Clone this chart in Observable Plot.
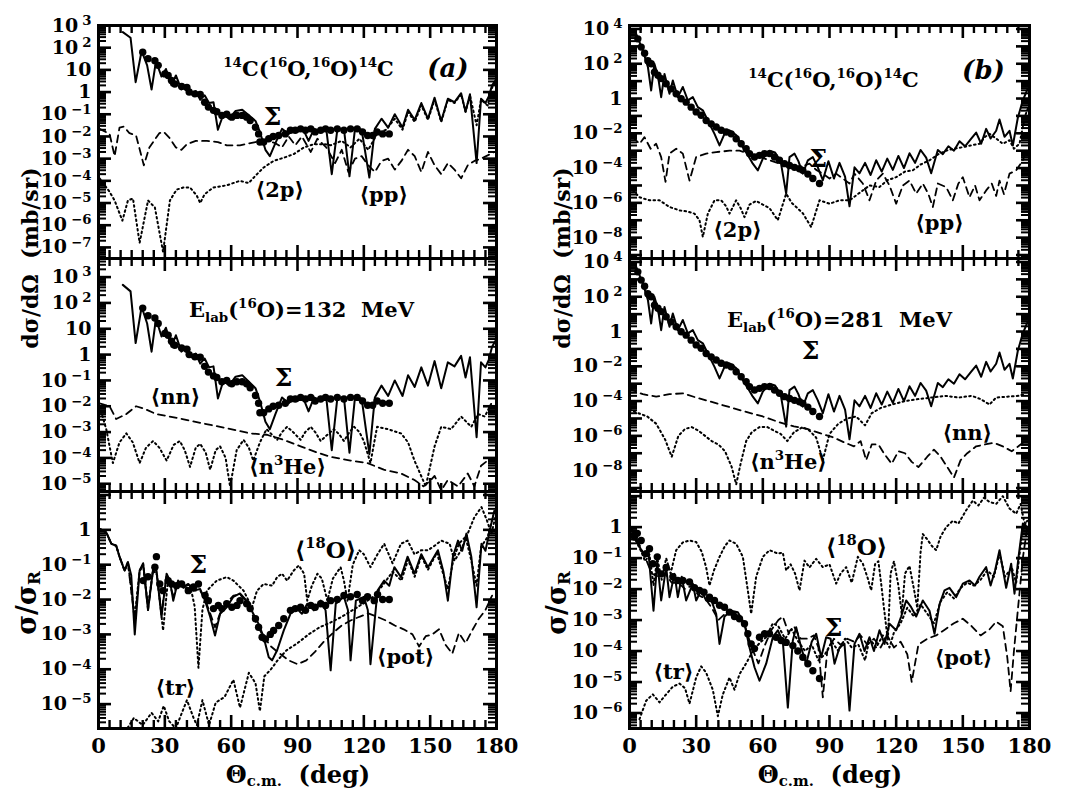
<!DOCTYPE html>
<html><head><meta charset="utf-8">
<script src="https://cdn.jsdelivr.net/npm/d3@7"></script>
<script src="https://cdn.jsdelivr.net/npm/@observablehq/plot@0.6"></script>
<style>
body{margin:0;background:#fff;}
#fig{position:relative;width:1065px;height:799px;overflow:hidden;font-family:"DejaVu Serif",serif;color:#000;}
#fig svg{position:absolute;overflow:visible;}
.tt{position:absolute;font-weight:bold;white-space:nowrap;transform:translate(-50%,-50%);line-height:1;}
.rot{transform:translate(-50%,-50%) rotate(-90deg);}
.tt sub{font-size:62%;vertical-align:-0.25em;}
</style></head><body><div id="fig"></div>
<script>
// ---------- tick labels ----------
const angleTicks = [0, 30, 60, 90, 120, 150, 180];
const yTicksA = [1e3, 1e2, 1e1, 1, 1e-1, 1e-2, 1e-3, 1e-4, 1e-5, 1e-6, 1e-7];
const yTicksB = [1e4, 1e2, 1, 1e-2, 1e-4, 1e-6, 1e-8];
const yTicksC = [1e3, 1e2, 1e1, 1, 1e-1, 1e-2, 1e-3, 1e-4, 1e-5];
const yTicksD = [1e4, 1e2, 1, 1e-2, 1e-4, 1e-6, 1e-8];
const yTicksE = [1, 1e-1, 1e-2, 1e-3, 1e-4, 1e-5];
const yTicksF = [1, 1e-1, 1e-2, 1e-3, 1e-4, 1e-5, 1e-6];

// ---------- E = 132 MeV, dsigma/dOmega (mb/sr) ----------
const sum132 = [[11,500],[14.5,280],[16.8,2.8],[19.5,71],[22,16],[24,1.3],[26,25],[28.5,5.0],[30.5,11],[33,2.0],[35,5.6],[37.5,1.3],[39.5,2.0],[42,0.79],[44,1.1],[46,0.45],[48,0.71],[50,0.32],[52,0.35],[54,0.02],[56.5,0.10],[59,0.063],[62,0.14],[65,0.16],[68,0.089],[71,0.050],[73,0.016],[75.5,2.5e-3],[77.5,1.3e-3],[80,5.0e-3],[83,0.022],[86,0.013],[88,0.020],[90,0.016],[92.5,0.022],[95,6.3e-3],[97.5,0.022],[100,0.016],[103,0.022],[105.5,2.0e-4],[108,0.020],[111,0.022],[113.5,1.6e-4],[116,0.022],[119,0.020],[122.5,1.4e-4],[125,0.022],[128,0.063],[131,0.025],[134,0.10],[137.5,0.025],[140,0.16],[143,0.056],[146,0.32],[149,0.063],[152,0.56],[155,0.050],[158,0.50],[161,0.35],[164,0.89],[166,0.13],[168,0.79],[171,6.3e-4],[173,0.50],[175,0.32],[176.5,0.63],[178,2.0],[180,4.0]];
const pts132 = [[20,63],[22.4,32],[25.5,26],[27,16],[30,6.6],[31.5,5.6],[33,3.3],[34.5,2.3],[37.6,1.8],[40,1.6],[41,1.0],[43.6,0.83],[46,0.79],[48,0.35],[49.7,0.21],[52,0.15],[53.5,0.13],[55.8,0.089],[58,0.10],[60.3,0.074],[62.6,0.089],[65,0.089],[67,0.074],[68.6,0.052],[71,0.026],[72.4,0.013],[73,5.6e-3],[74.7,5.6e-3],[77,7.9e-3],[79,0.010],[81.5,0.011],[84.5,0.013],[86.8,0.019],[89,0.019],[91.4,0.022],[93.6,0.019],[96,0.022],[98,0.016],[100.5,0.019],[102.7,0.022],[105,0.019],[108,0.022],[111,0.019],[114,0.022],[117,0.022],[119.4,0.016],[121.7,0.011],[124,0.011],[126,0.016],[128.5,0.013],[131.5,0.013]];
const pp132 = [[0.5,0.022],[5,0.013],[7.3,1.3e-3],[9.5,0.025],[11.5,0.028],[14,0.014],[17,0.011],[20.5,5.0e-4],[23,3.2e-3],[27.5,0.014],[29.5,0.016],[32,8.9e-3],[35,3.2e-3],[37.5,2.5e-3],[40,4.5e-3],[44,6.3e-3],[49,6.3e-3],[54,5.6e-3],[58,4.0e-3],[64,4.0e-3],[71,5.6e-3],[76,6.3e-3],[80,5.0e-3],[83,3.2e-3],[86,0.010],[89,4.0e-3],[92,0.010],[96,2.0e-3],[99,7.9e-3],[103,3.2e-3],[107,6.3e-4],[110,2.5e-3],[113,2.5e-4],[116,1.0e-3],[119,1.3e-3],[122,5.0e-4],[125,2.5e-4],[128,7.9e-4],[131,1.0e-3],[134,3.2e-4],[137,7.9e-4],[140,2.5e-3],[143,1.3e-3],[146,2.5e-4],[149,2.0e-3],[152,5.0e-4],[155,2.0e-4],[158,6.3e-4],[161,3.2e-4],[164,1.3e-4],[167,5.0e-4],[170,7.9e-4],[173,1.0e-3],[176,1.4e-3],[179,2.0e-3]];
const twop132 = [[0.5,1.3e-4],[5,3.2e-5],[7.3,1.3e-5],[10.8,1.6e-6],[13.3,1.3e-5],[15.6,1.6e-5],[18.6,1.6e-7],[22.4,1.3e-5],[25.5,6.3e-6],[29.2,6.3e-8],[32.3,1.3e-5],[35.3,4.0e-5],[38.3,5.0e-5],[41.4,5.0e-5],[44.4,2.2e-5],[46,1.0e-5],[48,2.5e-5],[51.9,5.0e-5],[58,6.3e-5],[64,1.0e-4],[67.9,7.9e-5],[71.7,2.0e-4],[74.7,4.0e-4],[79.2,7.9e-4],[83.8,1.1e-3],[88.3,1.6e-3],[92.9,3.2e-3],[97.4,4.5e-3],[102,4.5e-3],[105,4.0e-3],[110,6.3e-3],[114,3.2e-3],[118,7.9e-3],[122,2.5e-3],[126,0.013],[130,0.020],[134,0.063],[137.5,0.020],[140,0.13],[143,0.045],[146,0.25],[149,0.056],[152,0.45],[155,0.045],[158,0.45],[161,0.32],[164,0.79],[166,0.13],[168,0.71],[171,0.032],[173,0.45],[176,0.25],[178,1.6],[180,3.2]];
const nn132 = [[0.5,0.013],[5,0.010],[8,3.2e-3],[12.6,5.0e-3],[17,0.010],[21,7.9e-3],[26,5.0e-3],[32,4.0e-3],[38,3.2e-3],[47,2.2e-3],[58,1.4e-3],[68.6,8.9e-4],[76,7.9e-4],[83.8,5.0e-4],[91.4,2.8e-4],[99,1.6e-4],[105,1.1e-4],[114,7.9e-5],[121.7,6.3e-5],[129,3.5e-5],[136.8,2.5e-5],[142.9,1.4e-5],[147,7.9e-6],[150,1.3e-5],[152,2.0e-5],[155,5.6e-6],[158,1.4e-5],[162.6,7.9e-6],[167,2.5e-5],[170,7.9e-6],[173,5.0e-5],[176,7.9e-5]];
const n3he132 = [[0.5,0.010],[3.5,1.3e-3],[6.5,6.3e-5],[9.5,4.0e-4],[12.6,8.9e-4],[15.5,4.0e-4],[18.6,6.3e-5],[21.5,2.5e-4],[24.7,4.5e-4],[27.5,2.5e-4],[30.8,7.9e-5],[34,3.2e-4],[36.8,4.5e-4],[39,2.0e-4],[41.4,4.5e-5],[44,2.5e-4],[46,3.5e-4],[48.5,1.6e-4],[50.5,3.5e-5],[53,2.0e-4],[55,2.8e-4],[57.5,1.0e-4],[59.5,7.9e-6],[62.5,2.0e-4],[65.6,5.0e-4],[68,2.5e-4],[70,7.9e-5],[73,4.0e-4],[76,1.3e-3],[78.5,7.9e-4],[80.8,5.0e-4],[83,1.0e-3],[85.3,1.6e-3],[88,1.0e-3],[91.4,5.0e-4],[93.5,1.0e-3],[96,1.6e-3],[98,1.0e-3],[100.5,4.5e-4],[103.5,7.9e-4],[106.5,1.3e-3],[109,7.9e-4],[111,4.5e-4],[113.5,1.0e-3],[115.6,1.6e-3],[118,1.0e-3],[120,4.5e-4],[123,6.3e-5],[126,1.6e-3],[130.8,1.3e-3],[136.8,8.9e-4],[140,4.0e-4],[142.9,7.9e-5],[148,7.9e-6],[152,2.8e-4],[155,1.6e-3],[159.5,1.3e-3],[164,4.0e-3],[168.6,1.6e-3],[171.7,5.0e-3],[174.7,4.0e-3],[177.7,0.013]];

// ---------- E = 132 MeV, sigma / sigma_R ----------
const sumR132 = [[0.5,1.07],[3.5,0.85],[5.8,0.40],[8,0.35],[9.5,0.17],[11.8,0.068],[13.3,0.12],[14.8,0.050],[16.4,1.0e-3],[18.6,0.068],[20.2,0.11],[22.4,5.0e-3],[24.7,0.076],[26.2,0.068],[28.5,3.2e-3],[30.8,0.055],[32.3,0.035],[33.8,9.3e-3],[36,0.035],[38.3,0.023],[40.6,0.028],[42.9,0.018],[46,0.020],[48.2,9.3e-3],[50.5,3.2e-3],[52.7,9.3e-4],[55,3.9e-3],[58,6.0e-3],[61,0.012],[64,0.015],[67,9.3e-3],[70,3.9e-3],[72.4,2.0e-3],[74.7,8.3e-4],[77,2.2e-4],[78.5,1.8e-4],[80.8,3.5e-4],[83.8,1.3e-3],[86.8,3.9e-3],[89.8,5.4e-3],[92,3.9e-3],[94.4,7.6e-3],[97.4,4.9e-3],[100.5,9.3e-3],[102.7,4.9e-3],[105,9.3e-5],[107.3,7.6e-3],[111,0.012],[112.8,5.0e-3],[114,1.8e-4],[116.4,9.3e-3],[120,0.012],[121.8,5.0e-3],[123,1.4e-4],[126.2,0.018],[129.2,0.035],[131.5,0.025],[133.8,0.085],[136.8,0.044],[139.8,0.17],[142.9,0.055],[146,0.20],[149,0.085],[153.5,0.26],[156,0.063],[158,9.3e-3],[160.3,0.17],[162.6,0.49],[164.5,0.25],[166.4,0.78],[168.6,0.17],[171,6.0e-3],[173.2,0.40],[175,0.25],[177,1.0],[179,3.5]];
const ptsR132 = [[20.2,0.035],[22.4,0.045],[25.5,0.085],[26.2,0.17],[27.7,0.028],[29.2,0.018],[31.5,0.035],[33,0.028],[35.3,0.025],[37.6,0.028],[40.6,0.018],[43,0.023],[45.2,0.028],[48.2,0.013],[49.7,9.3e-3],[52,5.5e-3],[54.2,6.8e-3],[55.8,5.5e-3],[58,7.6e-3],[60.3,6.0e-3],[62.6,6.8e-3],[64,9.3e-3],[67,7.6e-3],[68.6,5.5e-3],[71,2.8e-3],[72.4,1.6e-3],[74,8.3e-4],[75.5,7.4e-4],[77.7,1.0e-3],[79.2,1.3e-3],[81.5,1.8e-3],[83.8,2.8e-3],[86.8,4.9e-3],[89,5.5e-3],[91.4,6.0e-3],[93.6,4.9e-3],[96,6.8e-3],[98,6.0e-3],[100.5,7.6e-3],[102.7,6.8e-3],[105,9.3e-3],[108,0.010],[111,0.013],[114,0.012],[117,0.014],[119.4,9.3e-3],[121.7,0.012],[124.7,9.3e-3],[126.2,0.014],[128.5,0.010],[131.5,0.010]];
const o18_132 = [[0.5,1.07],[3.5,0.85],[5.8,0.40],[8,0.35],[9.5,0.17],[11.8,0.068],[13.3,0.12],[16.4,3.2e-3],[18.6,0.068],[20.2,0.10],[22.4,6.3e-3],[24.7,0.071],[26.5,0.050],[29.2,1.3e-3],[31.5,0.040],[34,0.025],[36.5,0.032],[39,0.020],[41.5,0.025],[43.5,6.3e-3],[45.2,1.1e-4],[47,5.0e-3],[49,0.018],[53.5,0.035],[58,0.044],[61,0.035],[65.6,0.018],[69.4,6.0e-3],[71.7,0.018],[74.7,0.028],[78.5,0.025],[80.8,0.044],[83,0.055],[85.3,0.035],[88.3,0.068],[90.6,0.095],[93,0.055],[94.4,9.3e-3],[96.5,0.025],[99,0.055],[101,0.040],[103.5,9.3e-3],[106,0.040],[109.5,0.085],[111,0.035],[112.6,9.3e-3],[115,0.10],[117.9,0.26],[120,0.20],[123,0.085],[126.2,0.20],[129.2,0.40],[133,0.11],[136.8,0.40],[139.8,0.49],[142.9,0.20],[146,0.26],[149,0.26],[152,0.35],[155,0.49],[158.8,0.40],[161,0.13],[164,0.26],[167,0.79],[170,2.3],[173.2,4.5],[175.5,2.0],[177.7,0.78],[180,3.2]];
const pot132 = [[0.5,1.07],[3.5,0.85],[5.8,0.40],[8,0.35],[9.5,0.17],[11.8,0.068],[13.3,0.11],[16.4,2.5e-3],[18.6,0.063],[20.2,0.10],[22.4,5.0e-3],[24.7,0.071],[26.2,0.063],[28.5,4.0e-3],[30.8,0.050],[33.8,0.013],[36,0.032],[38.3,0.022],[40.6,0.025],[42.9,0.018],[46,0.018],[48.2,0.010],[50.5,4.0e-3],[52.7,1.6e-3],[55,4.0e-3],[58,7.9e-3],[61,0.013],[64,0.014],[67,8.9e-3],[70,3.2e-3],[74,1.0e-3],[78,4.5e-4],[82,2.8e-4],[86,1.8e-4],[90,1.4e-4],[94,1.8e-4],[98,3.2e-4],[102,6.3e-4],[106,1.1e-3],[110,1.8e-3],[114,2.5e-3],[118,3.2e-3],[122,4.0e-3],[126,3.2e-3],[130,2.5e-3],[134,1.8e-3],[138,1.4e-3],[142,1.0e-3],[145,4.5e-4],[148,8.9e-4],[151,1.0e-3],[154,1.4e-3],[157,5.0e-4],[160,2.8e-4],[163,1.1e-3],[166,5.6e-4],[169,1.3e-3],[172,2.8e-3],[175,5.0e-3],[178,0.013]];
const tr132 = [[12,1.6e-6],[16,4.0e-6],[20,2.5e-6],[24,5.6e-6],[27,3.2e-6],[29.5,8.9e-6],[32,3.2e-6],[35,2.0e-6],[38,6.3e-6],[40,1.3e-5],[43,4.0e-6],[44.5,2.5e-6],[47,1.3e-5],[50,2.5e-6],[53,1.1e-5],[57,1.6e-5],[61,5.0e-5],[64,7.9e-6],[68,7.9e-5],[71,4.0e-5],[73,6.3e-6],[75,6.3e-5],[78,1.0e-4],[81,1.8e-4],[85,3.5e-4],[90,5.6e-4],[95,1.0e-3],[100,1.6e-3],[105,2.2e-3],[110,3.2e-3],[115,5.0e-3],[120,7.9e-3],[125,0.013],[129,0.028],[133,0.063],[137,0.035],[140,0.14],[143,0.045],[146,0.18],[149,0.071],[153,0.22],[158,0.020],[160.5,0.14],[163,0.40],[166,0.63],[168.5,0.14],[171,0.025],[173,0.32],[176,0.63],[178.5,2.5]];

// ---------- E = 281 MeV, dsigma/dOmega (mb/sr) ----------
const sum281 = [[3,5200],[6,580],[8.3,63],[9.75,2.9],[11.2,100],[12.8,20],[14.25,1.2],[15.75,26],[18,1.9],[19.5,11],[21.75,1.2],[24,4.6],[26.25,0.78],[28.5,1.2],[30.75,0.32],[33,0.21],[36,0.035],[38.25,9.3e-3],[40.5,2.0e-3],[42.75,9.3e-3],[45,0.015],[48,7.9e-3],[51,1.6e-3],[53.5,5.0e-4],[55.5,1.8e-4],[57.75,7.4e-5],[60,3.5e-4],[63,1.0e-3],[65.5,7.9e-4],[68,2.5e-4],[70.5,3.4e-6],[72,4.3e-4],[74.25,6.8e-4],[76,2.5e-4],[78,4.8e-5],[80.25,2.8e-4],[82.5,4.3e-4],[84.75,1.1e-4],[87,2.0e-5],[89.5,2.5e-4],[92,2.5e-5],[94.5,2.0e-4],[97,3.2e-5],[99,6.3e-7],[101.25,1.1e-4],[103.5,5.0e-5],[106,2.0e-4],[108.5,4.0e-5],[111,2.8e-4],[113.5,6.3e-5],[116,3.5e-4],[118.5,7.9e-5],[121,5.0e-4],[123.5,1.0e-4],[126,7.1e-4],[128.5,2.0e-4],[131,1.1e-3],[133.5,4.0e-4],[135.75,5.0e-5],[138.75,1.1e-3],[141,6.3e-4],[143.5,1.8e-3],[146,1.0e-3],[148.5,3.5e-3],[151,1.8e-3],[153.5,4.5e-3],[156,0.011],[158.25,2.5e-3],[160.5,0.018],[162.5,5.0e-3],[165,0.014],[166.5,0.063],[168.75,6.3e-3],[171,0.014],[172.5,2.0e-3],[174.75,0.079],[177,0.79],[179,3.2]];
const pts281 = [[3.75,2700],[5.25,910],[6.8,400],[8.25,150],[9.75,100],[11.25,33],[12.8,22],[14.25,14],[16.5,7.1],[18.75,3.6],[21,1.9],[23.25,0.98],[25.5,0.62],[27.75,0.32],[30,0.17],[32.25,0.11],[34.5,0.055],[36.75,0.035],[39,0.023],[41.25,0.015],[43.5,0.012],[45.75,9.3e-3],[48,4.9e-3],[50.25,2.5e-3],[52.5,1.3e-3],[54,6.8e-4],[56.25,4.3e-4],[58.5,5.4e-4],[60.75,6.8e-4],[63,6.8e-4],[65.25,4.3e-4],[67.5,2.8e-4],[69.75,1.8e-4],[72,1.4e-4],[74.25,1.1e-4],[76.5,9.1e-5],[78,7.4e-5],[80.25,4.5e-5],[82.5,2.5e-5],[85.5,1.3e-5]];
const pp281 = [[1.5,6.0e-3],[4.5,2.5e-3],[6.75,6.0e-3],[9.5,1.3e-3],[12,2.5e-3],[14.25,4.3e-4],[16.2,1.6e-5],[18,6.8e-4],[21,1.3e-3],[24,6.8e-4],[27,1.9e-5],[30,4.3e-4],[34.5,6.8e-4],[39,8.3e-4],[45,1.0e-3],[49.5,1.0e-3],[54,6.8e-4],[58.5,4.5e-4],[63,2.8e-4],[67.5,1.8e-4],[72,1.1e-4],[76.5,1.1e-4],[81,1.8e-4],[84,7.9e-5],[87,4.8e-5],[90,2.5e-5],[93,4.8e-5],[96,2.5e-5],[99,1.3e-5],[101.25,4.8e-5],[105,1.3e-5],[108,1.4e-6],[111,1.9e-5],[114,4.8e-5],[117,1.0e-5],[120,8.9e-7],[123,1.0e-5],[126,1.9e-5],[129,3.4e-6],[132,1.3e-5],[134.5,3.2e-6],[136.5,5.8e-7],[138.75,1.3e-5],[142.5,8.1e-6],[145.5,1.4e-6],[148,1.3e-5],[150,3.0e-5],[153,2.1e-6],[155.5,1.0e-5],[157.5,1.4e-6],[160.5,5.2e-6],[163,1.3e-5],[165,2.5e-6],[166.5,1.9e-5],[168.5,3.2e-6],[171,4.8e-5],[174,7.4e-5],[177,2.8e-4],[178.5,1.0e-3]];
const twop281 = [[1.5,5.2e-6],[4.5,2.1e-6],[9,1.4e-6],[13.5,1.4e-6],[18,5.8e-7],[22.5,3.7e-7],[26,3.2e-7],[29.25,2.4e-7],[31.5,1.0e-7],[33,1.1e-8],[35.25,2.4e-7],[38.25,1.4e-6],[41.25,1.4e-6],[43.5,6.3e-7],[45,2.4e-7],[48,1.4e-6],[50,5.0e-7],[51.75,1.5e-7],[54,7.9e-7],[57,1.3e-6],[60,7.9e-7],[63,5.0e-7],[66.75,1.0e-7],[70.5,3.4e-6],[73,1.0e-6],[75,5.8e-7],[78,2.5e-7],[81.75,4.1e-8],[85.5,1.4e-6],[90,8.9e-7],[94.5,1.4e-6],[99,1.4e-6],[105,5.2e-6],[108,1.0e-5],[112.5,8.1e-6],[116,2.0e-5],[120,3.0e-5],[124,6.3e-5],[127.5,7.4e-5],[131,1.6e-4],[135,2.8e-4],[139,6.3e-4],[142.5,1.0e-3],[146,1.3e-3],[150,1.6e-3],[153.5,2.0e-3],[157.5,2.5e-3],[160,6.3e-3],[162,9.3e-3],[165,5.0e-3],[168,2.5e-3],[171,4.0e-3],[173,1.3e-3],[175.5,2.5e-3],[178,0.10],[179.5,0.32]];
const nn281 = [[0,5.0e-4],[6,2.5e-4],[12,1.8e-4],[18,2.5e-4],[24,2.8e-4],[30,1.6e-4],[37,8.9e-5],[45,4.5e-5],[52,2.5e-5],[60,1.3e-5],[67,6.3e-6],[74,3.5e-6],[80,2.5e-6],[86,1.4e-6],[92,7.9e-7],[97,4.0e-7],[101,2.5e-7],[104,5.0e-7],[106.5,4.0e-8],[109,3.2e-7],[112,3.2e-7],[115,7.9e-8],[118,2.5e-8],[121,1.3e-7],[124,1.0e-7],[127,3.2e-8],[130,1.6e-8],[134,6.3e-8],[137,1.6e-7],[140,6.3e-8],[143,1.6e-8],[146,4.0e-9],[149,4.0e-8],[152,1.0e-7],[156,2.5e-7],[160,3.2e-7],[164,4.0e-7],[168,2.5e-7],[172,1.3e-7],[175,2.5e-7],[178,5.0e-7]];
const n3he281 = [[0,3.2e-5],[4,2.0e-5],[8,1.3e-5],[12,5.0e-6],[16,6.3e-7],[19,6.3e-8],[22,1.0e-6],[25,2.5e-6],[28,3.2e-6],[31,2.0e-6],[34,1.0e-6],[37,5.0e-7],[40,3.2e-7],[43,1.3e-7],[46,1.6e-8],[48,1.6e-9],[50,2.5e-8],[52.5,5.0e-7],[55,1.6e-6],[58.5,3.2e-6],[62,3.2e-6],[65,2.0e-6],[68,1.3e-6],[71,5.0e-7],[74,1.6e-6],[78,3.2e-6],[81,2.0e-6],[84,7.9e-7],[87,4.0e-8],[90,1.3e-6],[94,5.0e-6],[98,1.0e-5],[102,1.3e-5],[106,4.0e-6],[109,2.0e-5],[113,4.0e-5],[118,6.3e-5],[124,1.0e-4],[130,1.3e-4],[136,1.6e-4],[142,2.0e-4],[148,1.6e-4],[154,2.0e-4],[158,1.3e-4],[162,6.3e-5],[165,1.6e-4],[170,1.8e-4],[175,2.0e-4],[178,2.5e-4]];

// ---------- E = 281 MeV, sigma / sigma_R ----------
const sumR281 = [[0.75,1.0],[3,0.37],[5,0.20],[6.75,0.11],[8.5,0.16],[10.8,2.0e-3],[12.5,0.079],[14.25,4.3e-3],[16.5,0.051],[18,5.5e-3],[20.25,0.031],[21.75,5.5e-3],[23.5,0.025],[25.5,4.3e-3],[28.5,0.015],[30,4.3e-3],[32.25,9.1e-3],[34.5,4.3e-3],[37,4.0e-3],[39,1.6e-3],[40.5,1.7e-4],[42.75,1.3e-3],[45.75,2.0e-3],[48.75,1.8e-3],[51.75,7.6e-4],[54,1.3e-4],[56.25,3.0e-5],[58.5,1.1e-5],[61.5,3.9e-5],[64.5,2.8e-4],[66.75,4.7e-4],[69,2.0e-4],[71.25,1.5e-6],[73.5,2.2e-4],[75,5.9e-4],[77.25,1.3e-4],[79.5,3.9e-5],[82,2.0e-4],[84,3.6e-4],[86.25,6.3e-5],[88.5,2.8e-4],[90.5,2.5e-4],[92.25,3.9e-5],[94.5,1.3e-4],[96.75,1.7e-4],[99,1.2e-6],[101.25,1.7e-4],[103.5,3.6e-4],[105.75,1.0e-4],[108,2.8e-4],[110,1.0e-4],[112.5,4.7e-4],[114.75,1.7e-4],[117,7.6e-4],[120,4.7e-4],[122.25,1.3e-3],[124.5,4.3e-3],[126.75,2.6e-3],[129,1.3e-3],[132,4.3e-3],[135,2.0e-3],[137.25,3.6e-4],[139.5,3.2e-3],[141.75,9.1e-3],[144,0.011],[147,5.5e-3],[150,0.015],[153,0.019],[155.5,0.013],[157.5,0.025],[160.5,0.051],[162.5,0.013],[164.5,0.040],[166.5,0.18],[169.5,0.011],[171.75,0.066],[173.25,7.1e-3],[175,0.10],[177,1.3],[179,1.0]];
const ptsR281 = [[2.25,0.48],[3.5,0.63],[5.25,0.37],[7.5,0.14],[9,0.20],[10.5,0.066],[12.5,0.11],[14.25,0.031],[16.5,0.050],[19.5,0.025],[21.75,0.019],[24,0.019],[27,0.017],[29.25,0.011],[31.5,9.1e-3],[33.5,7.9e-3],[36,5.5e-3],[38.25,4.3e-3],[40.5,3.0e-3],[42.75,2.6e-3],[45,1.8e-3],[47.25,1.3e-3],[49.5,1.1e-3],[51.75,7.6e-4],[53.25,3.6e-4],[54.75,1.7e-4],[56.25,1.2e-4],[58.5,2.8e-4],[60.75,3.6e-4],[63,3.6e-4],[66,2.8e-4],[68.25,2.2e-4],[70.5,1.9e-4],[73.5,1.5e-4],[75.75,1.0e-4],[78,6.3e-5],[80.25,3.9e-5],[82.5,2.3e-5],[85.5,1.3e-5]];
const o18_281 = [[0.75,1.0],[3,0.35],[5,0.18],[7,0.079],[9,0.13],[10.8,0.013],[12.5,0.10],[14.5,0.020],[16.5,0.10],[18.5,0.032],[21,0.18],[24,0.32],[27,0.37],[30,0.33],[32.5,0.16],[34.5,0.050],[36,0.013],[38,0.040],[40.5,0.11],[43,0.25],[45,0.37],[48,0.29],[51,0.11],[53.25,9.1e-3],[54.75,1.6e-3],[57,0.025],[60,0.11],[63,0.18],[66.75,0.14],[69,0.15],[70.5,0.040],[72.5,0.063],[74.5,0.032],[76.5,9.1e-3],[78.75,0.083],[81,0.050],[84,0.095],[87,0.051],[90,0.063],[93,0.015],[95,0.032],[97.5,0.051],[100,0.016],[102.75,0.11],[105,0.066],[107,0.025],[108.75,9.1e-3],[110.5,0.063],[112,0.079],[113.25,0.015],[114.5,2.5e-3],[116.25,2.2e-4],[117.5,0.032],[119,0.079],[121,0.013],[122.5,1.6e-3],[124,0.032],[126,0.056],[128,0.010],[129.5,2.5e-3],[131,0.16],[132,0.60],[134,0.40],[136,0.25],[138,0.18],[140,0.50],[142.5,1.0],[145.5,1.6],[148,1.3],[151.5,3.5],[154.5,7.2],[157,5.0],[159.5,8.9],[162,6.5],[165,5.6],[168,10],[171,4.0],[174,2.7],[176,5.6],[177.5,1.6],[179,1.0]];
const pot281 = [[1,0.89],[4,0.32],[7,0.11],[10,0.032],[13,0.025],[16,0.032],[19,0.016],[22,0.016],[25,0.010],[28,0.013],[31,6.3e-3],[34,5.0e-3],[37,2.5e-3],[40,1.0e-3],[43,1.6e-3],[46,1.8e-3],[49,1.6e-3],[52,6.3e-4],[55,1.3e-4],[58,4.0e-5],[61,1.6e-4],[64,5.0e-4],[67,1.0e-3],[69,1.3e-3],[71.5,4.0e-4],[74,6.3e-4],[77,2.5e-4],[80,2.5e-4],[83,3.2e-4],[85,1.3e-4],[87,3.2e-6],[89,1.0e-4],[92,2.5e-4],[95,1.6e-4],[98,2.5e-4],[101,2.0e-4],[104,3.2e-4],[107,1.6e-4],[110,2.5e-4],[113,1.3e-4],[116,3.2e-4],[119,1.3e-4],[122,2.0e-4],[125,7.9e-5],[127,1.0e-5],[130,1.6e-4],[134,2.5e-4],[138,3.2e-4],[142,5.0e-4],[146,7.9e-4],[150,1.1e-3],[154,6.3e-4],[158,3.2e-4],[162,5.0e-4],[165,8.9e-4],[168,6.3e-4],[170,6.3e-5],[171.5,5.0e-6],[173,1.0e-4],[175,3.2e-3],[177,0.10],[179,1.0]];
const tr281 = [[4.5,6.3e-7],[7.5,2.5e-6],[10.5,4.0e-6],[13.5,2.2e-6],[16.5,4.0e-6],[19.5,7.1e-6],[22.5,8.9e-6],[25,6.3e-6],[27,2.0e-6],[30,1.4e-5],[32.25,3.2e-5],[34.5,2.0e-5],[37.5,5.6e-6],[39.75,7.9e-7],[42,4.0e-6],[45,1.4e-5],[47.25,5.6e-6],[49.5,1.8e-5],[52.5,4.0e-5],[55.5,1.0e-4],[58.5,1.8e-4],[61.5,2.8e-4],[64.5,7.9e-4],[67,6.3e-4],[70,2.5e-4],[73,5.0e-4],[76,2.0e-4],[79,1.0e-4],[82,1.6e-4],[85,5.0e-5],[88,7.9e-5],[91,2.0e-4],[94,1.0e-4],[97,2.5e-4],[100,1.3e-4],[103,1.6e-4],[106,5.0e-5],[108,2.5e-4],[111,1.3e-4],[114,3.2e-4],[117,1.3e-4],[119,4.0e-4],[122,7.9e-4],[125,2.5e-3],[128,1.3e-3],[131,3.2e-3],[134,1.6e-3],[137,7.9e-4],[140,4.0e-3],[143,7.9e-3],[146,5.0e-3],[149,0.011],[152,0.016],[155,0.013],[158,0.020],[161,0.040],[164,0.025],[166.5,0.14],[169,0.025],[172,0.050],[174,0.016],[177,1.0],[179,1.6]];

// ---------- in-panel annotations ----------
const notesA = [
  {x: 95, y: 11, text: "^{14}C(^{16}O,^{16}O)^{14}C", size: 21},
  {x: 158, y: 11, text: "(a)", size: 26, style: "italic"},
  {x: 78.7, y: 0.072, text: "Σ", size: 25},
  {x: 82, y: 3.7e-5, text: "⟨2p⟩", size: 21},
  {x: 129, y: 2.2e-5, text: "⟨pp⟩", size: 21}
];
const notesB = [
  {x: 91.8, y: 11, text: "^{14}C(^{16}O,^{16}O)^{14}C", size: 21},
  {x: 159.3, y: 41, text: "(b)", size: 26, style: "italic"},
  {x: 85, y: 3.5e-4, text: "Σ", size: 25},
  {x: 48.6, y: 2.6e-8, text: "⟨2p⟩", size: 21},
  {x: 139.5, y: 6.6e-8, text: "⟨pp⟩", size: 21}
];
const notesC = [
  {x: 91.8, y: 51, text: "E_{lab}(^{16}O)=132  MeV", size: 21},
  {x: 83.7, y: 0.12, text: "Σ", size: 25},
  {x: 34.8, y: 0.022, text: "⟨nn⟩", size: 21},
  {x: 85.5, y: 4.5e-5, text: "⟨n^{3}He⟩", size: 21}
];
const notesD = [
  {x: 94.5, y: 4.4, text: "E_{lab}(^{16}O)=281  MeV", size: 21},
  {x: 81.5, y: 0.081, text: "Σ", size: 25},
  {x: 152, y: 1.4e-6, text: "⟨nn⟩", size: 21},
  {x: 71.5, y: 3.0e-8, text: "⟨n^{3}He⟩", size: 21}
];
const notesE = [
  {x: 45.2, y: 0.095, text: "Σ", size: 25},
  {x: 102.7, y: 0.26, text: "⟨^{18}O⟩", size: 23},
  {x: 138.9, y: 2.2e-4, text: "⟨pot⟩", size: 21},
  {x: 34.8, y: 2.8e-5, text: "⟨tr⟩", size: 21}
];
const notesF = [
  {x: 102.2, y: 0.22, text: "⟨^{18}O⟩", size: 23},
  {x: 91.8, y: 5.4e-4, text: "Σ", size: 25},
  {x: 150.3, y: 5.8e-5, text: "⟨pot⟩", size: 21},
  {x: 19.8, y: 2.0e-5, text: "⟨tr⟩", size: 21}
];

// ---------- layout ----------
const cols = [
  {left: 0, width: 530, mL: 98, fw: 398},
  {left: 530, width: 535, mL: 99, fw: 400}
];
const rows = [
  {top: 0, mT: 25, fh: 233, mB: 0},
  {top: 258, mT: 0, fh: 233, mB: 0},
  {top: 491, mT: 0, fh: 237, mB: 71}
];
const panels = [
  {c: 0, r: 0, domain: [10 ** -7.5, 1e3], ticks: yTicksA, solid: sum132, dashed: pp132, dotted: [twop132], dots: pts132, notes: notesA},
  {c: 1, r: 0, domain: [10 ** -9.2, 10 ** 4.2], ticks: yTicksB, solid: sum281, dashed: pp281, dotted: [twop281], dots: pts281, notes: notesB},
  {c: 0, r: 1, domain: [10 ** -5.3, 10 ** 3.72], ticks: yTicksC, solid: sum132, dashed: nn132, dotted: [n3he132], dots: pts132, notes: notesC},
  {c: 1, r: 1, domain: [10 ** -9.2, 10 ** 4.2], ticks: yTicksD, solid: sum281, dashed: nn281, dotted: [n3he281], dots: pts281, notes: notesD},
  {c: 0, r: 2, domain: [10 ** -5.7, 10 ** 1.1], ticks: yTicksE, solid: sumR132, dashed: pot132, dotted: [o18_132, tr132], dots: ptsR132, notes: notesE},
  {c: 1, r: 2, domain: [10 ** -6.5, 10 ** 1.15], ticks: yTicksF, solid: sumR281, dashed: pot281, dotted: [o18_281, tr281], dots: ptsR281, notes: notesF}
];

function fmtPow(v) {
  const e = Math.round(Math.log10(v));
  if (e === 0) return "1";
  if (e === 1) return "10";
  return "10^{" + (e < 0 ? "\u2212" + (-e) : e) + "}";
}

const NS = "http://www.w3.org/2000/svg";
function richify(svg) {
  svg.querySelectorAll("text").forEach(t => {
    const s = t.textContent;
    if (!/[\^_]\{/.test(s)) return;
    const fs = parseFloat(getComputedStyle(t).fontSize) || 18;
    const isTick = /^10\^/.test(s);
    while (t.firstChild) t.removeChild(t.firstChild);
    const re = /([\^_])\{([^}]*)\}|([^\^_]+)/g;
    let m, shift = 0;
    while ((m = re.exec(s))) {
      const ts = document.createElementNS(NS, "tspan");
      if (m[3] !== undefined) {
        ts.textContent = m[3];
        if (shift) ts.setAttribute("dy", (-shift).toFixed(2));
        shift = 0;
      } else {
        const up = m[1] === "^";
        const d = up ? -(isTick ? 0.36 : 0.42) * fs : 0.22 * fs;
        ts.textContent = m[2];
        ts.setAttribute("font-size", (fs * (isTick ? 0.7 : 0.64)).toFixed(1));
        ts.setAttribute("dy", (d - shift).toFixed(2));
        if (isTick) ts.setAttribute("dx", "4");
        shift = d;
      }
      t.appendChild(ts);
    }
  });
}

const fig = document.getElementById("fig");
const xMinor = d3.range(0, 181, 5).filter(d => d % 30 !== 0);

for (const p of panels) {
  const col = cols[p.c], row = rows[p.r];
  const w = col.fw, h = row.fh;
  const [lo, hi] = p.domain;
  const decades = [], minor = [];
  for (let k = Math.floor(Math.log10(lo)); k <= Math.ceil(Math.log10(hi)); k++) {
    const v = 10 ** k;
    if (v >= lo && v <= hi) decades.push(v);
    for (let q = 2; q <= 9; q++) { const u = q * v; if (u >= lo && u <= hi) minor.push(u); }
  }
  const lineOpts = {x: d => d[0], y: d => d[1], stroke: "#000", strokeWidth: 2, clip: true};
  const marks = [
    Plot.line(p.dashed, {...lineOpts, strokeDasharray: "7,5", strokeWidth: 1.8}),
    ...p.dotted.map(s => Plot.line(s, {...lineOpts, strokeDasharray: "1.6,3.2", strokeWidth: 2})),
    Plot.line(p.solid, {...lineOpts, strokeWidth: 2}),
    Plot.dot(p.dots, {x: d => d[0], y: d => d[1], r: 3.7, fill: "#000", stroke: null, clip: true}),
    // inward frame ticks on all four sides (IDL style)
    Plot.ruleX(angleTicks, {x: d => d, insetTop: h - 13, stroke: "#000", strokeWidth: 2.6}),
    Plot.ruleX(angleTicks, {x: d => d, insetBottom: h - 13, stroke: "#000", strokeWidth: 2.6}),
    Plot.ruleX(xMinor, {x: d => d, insetTop: h - 8, stroke: "#000", strokeWidth: 2.4}),
    Plot.ruleX(xMinor, {x: d => d, insetBottom: h - 8, stroke: "#000", strokeWidth: 2.4}),
    Plot.ruleY(decades, {y: d => d, insetRight: w - 13, stroke: "#000", strokeWidth: 2.6}),
    Plot.ruleY(decades, {y: d => d, insetLeft: w - 13, stroke: "#000", strokeWidth: 2.6}),
    Plot.ruleY(minor, {y: d => d, insetRight: w - 8, stroke: "#000", strokeWidth: 2}),
    Plot.ruleY(minor, {y: d => d, insetLeft: w - 8, stroke: "#000", strokeWidth: 2}),
    Plot.frame({stroke: "#000", strokeWidth: 3}),
    Plot.axisY(p.ticks, {tickSize: 0, tickPadding: 7, tickFormat: fmtPow, label: null, fontSize: 19}),
    ...p.notes.map(n => Plot.text([n], {x: "x", y: "y", text: "text", fontSize: n.size, fontStyle: n.style || "normal", fontWeight: "bold", textAnchor: "middle"}))
  ];
  if (p.r === 2) marks.push(Plot.axisX(angleTicks, {tickSize: 0, tickPadding: 10, tickFormat: d => String(d), label: null, fontSize: 21}));
  const svg = Plot.plot({
    width: col.width,
    height: row.mT + h + row.mB,
    marginLeft: col.mL,
    marginRight: col.width - col.mL - w,
    marginTop: row.mT,
    marginBottom: row.mB,
    x: {domain: [0, 180], axis: null},
    y: {type: "log", domain: p.domain, axis: null},
    style: {fontFamily: "'DejaVu Serif', serif", fontWeight: "bold", fontSize: "19px", color: "#000", overflow: "visible"},
    marks
  });
  svg.style.left = col.left + "px";
  svg.style.top = row.top + "px";
  fig.appendChild(svg);
  svg.querySelectorAll('g[aria-label="y-axis tick label"] text').forEach(t => t.style.fontSize = "19px");
  svg.querySelectorAll('g[aria-label="x-axis tick label"] text').forEach(t => t.style.fontSize = "21px");
  richify(svg);
}

// ---------- axis titles ----------
const titles = [
  {html: "d\u03c3/d\u03a9&nbsp;&nbsp;(mb/sr)", x: 30, y: 258, size: 22, rot: true},
  {html: "d\u03c3/d\u03a9&nbsp;&nbsp;(mb/sr)", x: 562, y: 258, size: 22, rot: true},
  {html: "\u03c3/\u03c3<sub>R</sub>", x: 28, y: 603, size: 27, rot: true},
  {html: "\u03c3/\u03c3<sub>R</sub>", x: 558, y: 603, size: 27, rot: true},
  {html: "\u0398<sub>c.m.</sub>&nbsp;&nbsp;(deg)", x: 298, y: 776, size: 24, rot: false},
  {html: "\u0398<sub>c.m.</sub>&nbsp;&nbsp;(deg)", x: 830, y: 776, size: 24, rot: false}
];
for (const t of titles) {
  const d = document.createElement("div");
  d.className = "tt" + (t.rot ? " rot" : "");
  d.style.left = t.x + "px";
  d.style.top = t.y + "px";
  d.style.fontSize = t.size + "px";
  d.innerHTML = t.html;
  fig.appendChild(d);
}
</script></body></html>
